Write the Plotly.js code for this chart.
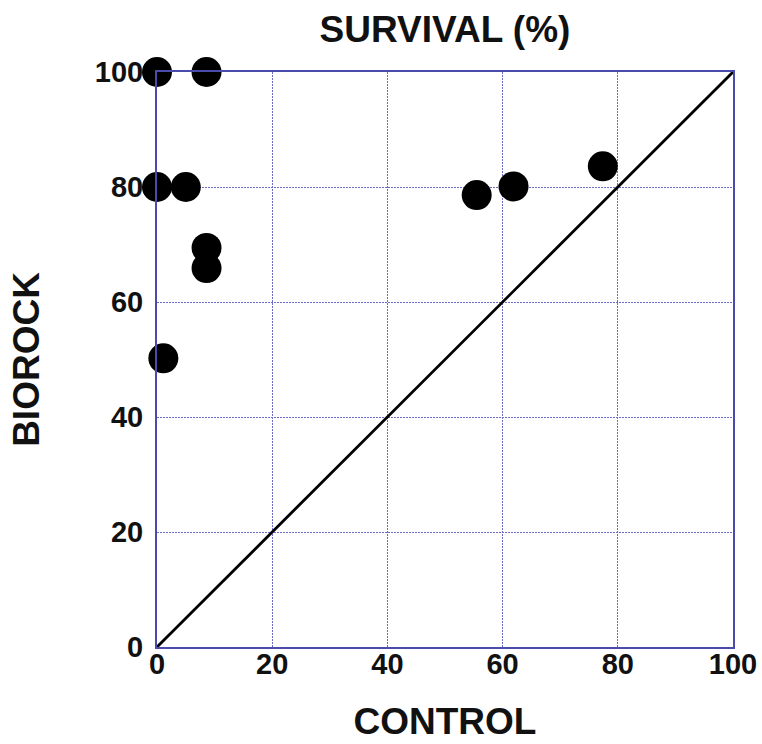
<!DOCTYPE html>
<html>
<head>
<meta charset="utf-8">
<script src="https://cdn.plot.ly/plotly-3.0.1.min.js"></script>
<style>html,body{margin:0;padding:0;background:#fff;}#chart{width:762px;height:744px;}</style>
</head>
<body>
<div id="chart"></div>
<script>
const controlValues = [0, 8.6, 0, 5.0, 8.6, 8.6, 1.1, 55.5, 61.9, 77.4];
const biorockValues = [100, 100, 80, 80, 69.4, 65.9, 50.2, 78.6, 80.1, 83.6];
const diagonalX = [0, 100];
const diagonalY = [0, 100];
const tickValues = [0, 20, 40, 60, 80, 100];
const tickLabels = ['0', '20', '40', '60', '80', '100'];

const FONT = 'Liberation Sans, Arial, sans-serif';

const traces = [
  {x: diagonalX, y: diagonalY, mode: 'lines', line: {color: '#000', width: 2.8}, hoverinfo: 'skip', cliponaxis: false},
  {x: controlValues, y: biorockValues, mode: 'markers', marker: {color: '#000', size: 30}, cliponaxis: false}
];

const axisCommon = {
  range: [0, 100],
  tickvals: tickValues,
  ticktext: tickLabels,
  showgrid: true,
  gridcolor: '#6c6cc4',
  griddash: '2px,1px',
  gridwidth: 1,
  zeroline: false,
  showline: true,
  mirror: true,
  linecolor: '#4b4bab',
  linewidth: 2,
  ticks: '',
  tickfont: {family: FONT, size: 29, color: '#111', weight: 'bold'}
};

const layout = {
  width: 762, height: 744,
  margin: {l: 157, r: 29, t: 72, b: 97},
  paper_bgcolor: '#fff', plot_bgcolor: '#fff',
  showlegend: false,
  title: {text: '<b>SURVIVAL (%)</b>', x: 0.584, xanchor: 'center', y: 0.961, yanchor: 'middle',
          font: {family: FONT, size: 37, color: '#111'}},
  xaxis: Object.assign({}, axisCommon, {
    ticklabelstandoff: -10,
    title: {text: '<b>CONTROL</b>', standoff: 29, font: {family: FONT, size: 37, color: '#111'}}
  }),
  yaxis: Object.assign({}, axisCommon, {
    ticklabelstandoff: 6,
    title: {text: '<b>BIOROCK</b>', standoff: 44, font: {family: FONT, size: 37, color: '#111'}}
  })
};

Plotly.newPlot('chart', traces, layout, {displayModeBar: false, staticPlot: true});
</script>
</body>
</html>
